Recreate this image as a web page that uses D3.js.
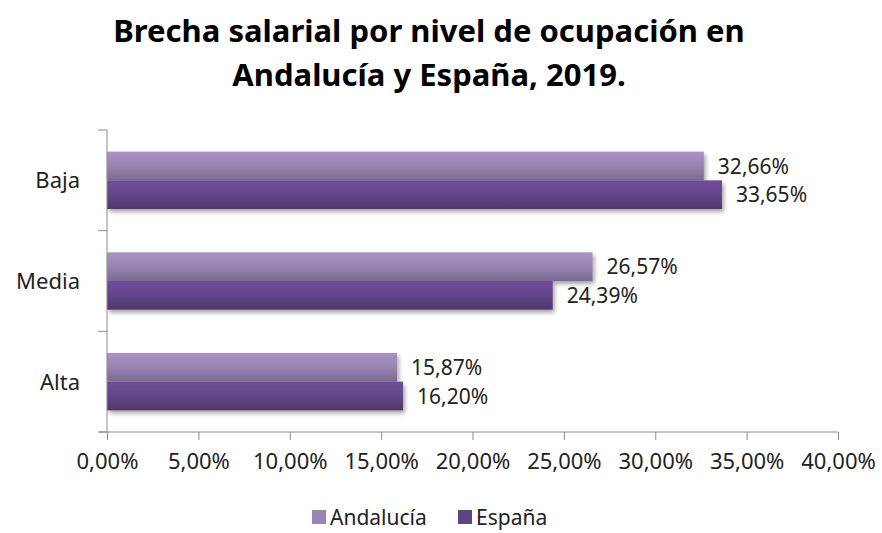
<!DOCTYPE html>
<html>
<head>
<meta charset="utf-8">
<script src="https://cdn.jsdelivr.net/npm/d3@7"></script>
<style>
  html, body { margin: 0; padding: 0; background: #fff; }
  svg { display: block; }
  text { font-family: "Noto Sans", "DejaVu Sans", sans-serif; fill: #1a1a1a; }
</style>
</head>
<body>
<svg id="chart" width="882" height="533"></svg>
<script>
const titleLines = ["Brecha salarial por nivel de ocupación en", "Andalucía y España, 2019."];
const categories = ["Baja", "Media", "Alta"];
const seriesNames = ["Andalucía", "España"];
const andalucia = [32.66, 26.57, 15.87];
const espana = [33.65, 24.39, 16.20];
const xTicks = [0, 5, 10, 15, 20, 25, 30, 35, 40];

const series = [
  { name: seriesNames[0], values: andalucia, grad: "gA", swatch: "#9985b5" },
  { name: seriesNames[1], values: espana, grad: "gE", swatch: "#5f4483" }
];

const svg = d3.select("#chart");
const fmt = v => v.toFixed(2).replace(".", ",") + "%";

const defs = svg.append("defs");
const gA = defs.append("linearGradient").attr("id", "gA").attr("x1", 0).attr("y1", 0).attr("x2", 0).attr("y2", 1);
gA.append("stop").attr("offset", "0%").attr("stop-color", "#a993c6");
gA.append("stop").attr("offset", "45%").attr("stop-color", "#9a86b4");
gA.append("stop").attr("offset", "100%").attr("stop-color", "#7b6a92");
const gE = defs.append("linearGradient").attr("id", "gE").attr("x1", 0).attr("y1", 0).attr("x2", 0).attr("y2", 1);
gE.append("stop").attr("offset", "0%").attr("stop-color", "#704d98");
gE.append("stop").attr("offset", "50%").attr("stop-color", "#634589");
gE.append("stop").attr("offset", "100%").attr("stop-color", "#4f3869");
const f = defs.append("filter").attr("id", "sh").attr("x", "-5%").attr("y", "-20%").attr("width", "115%").attr("height", "160%");
f.append("feGaussianBlur").attr("in", "SourceAlpha").attr("stdDeviation", 2.2);
f.append("feOffset").attr("dx", 1.5).attr("dy", 3).attr("result", "ob");
f.append("feComponentTransfer").append("feFuncA").attr("type", "linear").attr("slope", 0.35);
const fm = f.append("feMerge");
fm.append("feMergeNode");
fm.append("feMergeNode").attr("in", "SourceGraphic");

// Title
const title = svg.append("g");
titleLines.forEach((t, i) => {
  title.append("text")
    .attr("x", 429).attr("y", 42 + i * 44)
    .attr("text-anchor", "middle")
    .style("font-weight", "bold").style("font-size", "28px").style("fill", "#000")
    .text(t);
});
const t0 = title.select("text").node();
const w0 = t0.getComputedTextLength();
const fs = 28 * 632 / w0;
title.selectAll("text").style("font-size", fs + "px");

const x0 = 107, x1 = 838, yTop = 130, yBot = 432;
const x = d3.scaleLinear().domain([0, 40]).range([x0, x1]);
const y = d3.scaleBand().domain(categories).range([yTop, yBot]).paddingInner(0.43).paddingOuter(0.215);
const y1 = d3.scaleBand().domain(seriesNames).range([0, y.bandwidth()]);

// Bars
series.forEach(s => {
  svg.append("g").selectAll("rect").data(categories).join("rect")
    .attr("x", x(0))
    .attr("y", c => y(c) + y1(s.name))
    .attr("width", (c, i) => x(s.values[i]) - x(0))
    .attr("height", y1.bandwidth())
    .attr("fill", `url(#${s.grad})`)
    .attr("filter", "url(#sh)");
});

// Data labels
series.forEach(s => {
  svg.append("g").selectAll("text").data(categories).join("text")
    .attr("x", (c, i) => x(s.values[i]) + 14)
    .attr("y", c => y(c) + y1(s.name) + y1.bandwidth() / 2)
    .attr("dy", "0.36em")
    .style("font-size", "21px").style("fill", "#222")
    .text((c, i) => fmt(s.values[i]));
});

// Axes
const axisColor = "#8c8c8c";
const xAxis = svg.append("g").attr("transform", `translate(0,${yBot})`)
  .call(d3.axisBottom(x).tickValues(xTicks).tickSize(8).tickPadding(13).tickFormat(d => fmt(d)));
xAxis.select(".domain").attr("stroke", axisColor).attr("d", `M${x0 - 8},0H${x1}`);
xAxis.selectAll(".tick line").attr("stroke", axisColor);
xAxis.selectAll(".tick text").style("font-size", "22px").style("fill", "#222").style("font-family", "\"Noto Sans\", sans-serif");

const yBoundaries = [yTop, yTop + (yBot - yTop) / 3, yTop + 2 * (yBot - yTop) / 3, yBot];
const yAxis = svg.append("g");
yAxis.append("line").attr("x1", x0).attr("x2", x0).attr("y1", yTop).attr("y2", yBot).attr("stroke", axisColor);
yAxis.selectAll("line.tk").data(yBoundaries).join("line").attr("class", "tk")
  .attr("x1", x0 - 9).attr("x2", x0).attr("y1", d => d).attr("y2", d => d).attr("stroke", axisColor);
yAxis.selectAll("text").data(categories).join("text")
  .attr("x", 80).attr("y", c => y(c) + y.bandwidth() / 2).attr("dy", "0.36em")
  .attr("text-anchor", "end").style("font-size", "22px").style("fill", "#222")
  .text(c => c);

// Legend
const legend = svg.append("g");
const legendItems = [
  { name: seriesNames[0], x: 312, color: series[0].swatch },
  { name: seriesNames[1], x: 458, color: series[1].swatch }
];
legendItems.forEach(li => {
  legend.append("rect").attr("x", li.x).attr("y", 510).attr("width", 14).attr("height", 14).attr("fill", li.color);
  legend.append("text").attr("x", li.x + 18).attr("y", 517).attr("dy", "0.36em")
    .style("font-size", "21px").style("fill", "#222").text(li.name);
});
</script>
</body>
</html>
